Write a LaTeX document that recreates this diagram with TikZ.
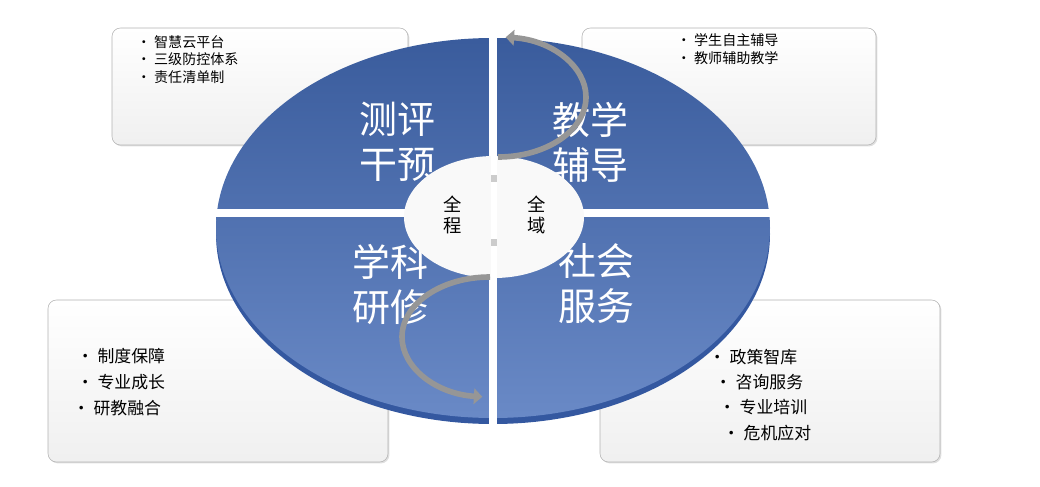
\documentclass[tikz,border=0pt]{standalone}
\usepackage{fontspec}
\setmainfont{Noto Sans CJK SC}
\usetikzlibrary{positioning, shadows, arrows.meta}

\definecolor{pieblue}{RGB}{68,108,184}
\definecolor{pieedge}{RGB}{52,88,160}
\definecolor{ringgray}{RGB}{150,150,150}

\begin{document}
\begin{tikzpicture}[x=0.025cm, y=-0.025cm,
    infobox/.style={draw=gray!60, rounded corners=6pt, top color=white, bottom color=gray!12,
                    drop shadow={opacity=0.25, shadow xshift=1pt, shadow yshift=-1pt}},
    bigtxt/.style={text=white, font=\fontsize{27}{32}\selectfont, align=center},
    itemtxt/.style={anchor=west, font=\fontsize{10}{12}\selectfont, align=left},
    itemtxtb/.style={anchor=west, font=\fontsize{12}{14}\selectfont, align=left},
    ctrtxt/.style={font=\fontsize{13}{15}\selectfont, align=center},
    ringarr/.style={draw=ringgray, line width=4pt, -{Triangle[length=6pt, width=11pt]}}
]
\useasboundingbox (0,0) rectangle (1040,487);

% ================= corner boxes =================
\draw[infobox] (112,28) rectangle (408,145);
\draw[infobox] (582,28) rectangle (876,145);
\draw[infobox] (48,300) rectangle (388,462);
\draw[infobox] (600,300) rectangle (940,462);

\node[itemtxt] (tl1) at (132,42) {• 智慧云平台};
\node[itemtxt] (tl2) at (132,59) {• 三级防控体系};
\node[itemtxt] (tl3) at (132,77) {• 责任清单制};

\node[itemtxt] (tr1) at (672,40) {• 学生自主辅导};
\node[itemtxt] (tr2) at (672,58) {• 教师辅助教学};

\node[itemtxtb] (bl1) at (72,356) {• 制度保障};
\node[itemtxtb] (bl2) at (72,382) {• 专业成长};
\node[itemtxtb] (bl3) at (68,408) {• 研教融合};

\node[itemtxtb] (br1) at (704,357) {• 政策智库};
\node[itemtxtb] (br2) at (710,382) {• 咨询服务};
\node[itemtxtb] (br3) at (714,407) {• 专业培训};
\node[itemtxtb] (br4) at (718,433) {• 危机应对};

% ================= pie =================
\fill[pieedge] (493,234) ellipse [x radius=277, y radius=190];
\shade[top color=pieblue!85!black, bottom color=pieblue!80!white] (493,228) ellipse [x radius=277, y radius=190];
\draw[white, line width=5pt] (493,30) -- (493,430);
\draw[white, line width=5pt] (200,213) -- (790,213);

\node[bigtxt] (q1) at (397,142) {测评\\干预};
\node[bigtxt] (q2) at (590,142) {教学\\辅导};
\node[bigtxt] (q3) at (390,284) {学科\\研修};
\node[bigtxt] (q4) at (596,284) {社会\\服务};

% ================= centre =================
\fill[white!95!gray] (494,217) ellipse [x radius=90, y radius=61];
\draw[white, line width=4pt] (494,150) -- (494,285);
\draw[ringarr] (490,277) arc[start angle=270, end angle=95, x radius=88, y radius=60];
\draw[ringarr] (498,157) arc[start angle=90, end angle=-85, x radius=88, y radius=60];
\fill[gray!40] (491,175) rectangle (497,182);
\fill[gray!40] (491,239) rectangle (497,246);

\node[ctrtxt] (c1) at (453,215) {全\\程};
\node[ctrtxt] (c2) at (537,215) {全\\域};
\end{tikzpicture}
\end{document}
